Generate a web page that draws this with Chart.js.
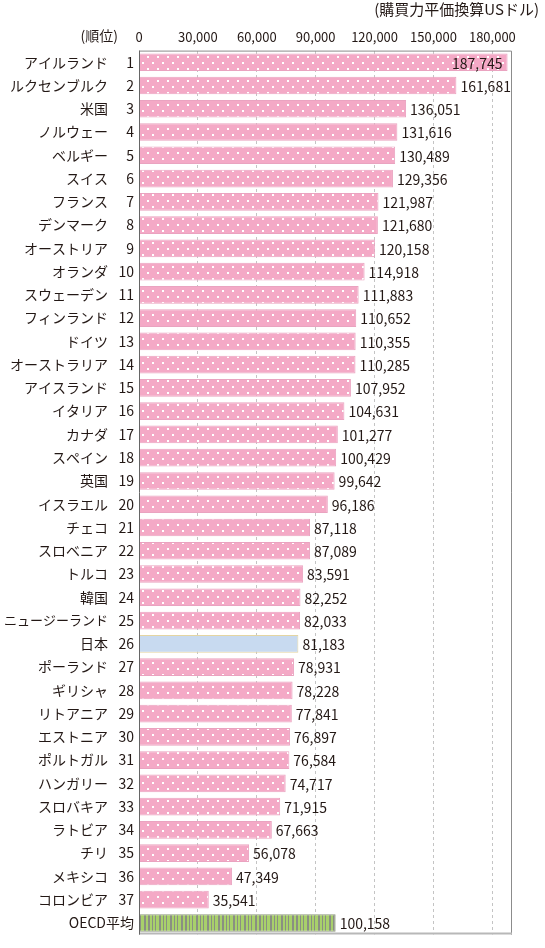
<!DOCTYPE html>
<html lang="ja">
<head>
<meta charset="utf-8">
<title>一人当たり労働生産性</title>
<script src="https://cdn.jsdelivr.net/npm/chart.js@4"></script>
<style>
  html, body { margin: 0; padding: 0; background: #fff; }
  #wrap { position: relative; width: 545px; height: 948px; }
</style>
</head>
<body>
<div id="wrap"><canvas id="chart"></canvas></div>
<script>
// データ（購買力平価換算USドル）
const countries = ['アイルランド', 'ルクセンブルク', '米国', 'ノルウェー', 'ベルギー', 'スイス', 'フランス', 'デンマーク',
  'オーストリア', 'オランダ', 'スウェーデン', 'フィンランド', 'ドイツ', 'オーストラリア', 'アイスランド', 'イタリア',
  'カナダ', 'スペイン', '英国', 'イスラエル', 'チェコ', 'スロベニア', 'トルコ', '韓国', 'ニュージーランド', '日本',
  'ポーランド', 'ギリシャ', 'リトアニア', 'エストニア', 'ポルトガル', 'ハンガリー', 'スロバキア', 'ラトビア', 'チリ',
  'メキシコ', 'コロンビア', ''];
const ranks = ['1', '2', '3', '4', '5', '6', '7', '8', '9', '10', '11', '12', '13', '14', '15', '16', '17', '18', '19',
  '20', '21', '22', '23', '24', '25', '26', '27', '28', '29', '30', '31', '32', '33', '34', '35', '36', '37', 'OECD平均'];
const values = [187745, 161681, 136051, 131616, 130489, 129356, 121987, 121680, 120158, 114918, 111883, 110652,
  110355, 110285, 107952, 104631, 101277, 100429, 99642, 96186, 87118, 87089, 83591, 82252, 82033, 81183,
  78931, 78228, 77841, 76897, 76584, 74717, 71915, 67663, 56078, 47349, 35541, 100158];
const xTicks = [0, 30000, 60000, 90000, 120000, 150000, 180000];

const FONT = "'Noto Sans CJK JP', 'Noto Sans', sans-serif";
const TEXT = '#231815';

// ピンクの水玉
function dotPattern() {
    const c = document.createElement('canvas');
    c.width = 10; c.height = 12;
    const g = c.getContext('2d');
    g.fillStyle = '#f4a9c6';
    g.fillRect(0, 0, 10, 12);
    g.fillStyle = '#ffffff';
    g.fillRect(2, 2, 2, 2);
    g.fillRect(7, 8, 2, 2);
    return g.createPattern(c, 'repeat');
}

// OECD平均の縦じま
function stripePattern() {
    const c = document.createElement('canvas');
    c.width = 37; c.height = 4;
    const g = c.getContext('2d');
    g.fillStyle = '#a8d06b';
    g.fillRect(0, 0, 37, 4);
    g.fillStyle = '#8a8f82';
    [0, 4, 7, 11, 15, 18, 22, 26, 29, 33].forEach((x, i) => {
        g.fillRect(x, 0, i % 3 === 0 ? 2 : 1, 4);
    });
    return g.createPattern(c, 'repeat');
}

const pink = dotPattern();
const green = stripePattern();
const fills = ranks.map((r, i) => countries[i] === '日本' ? '#c8daf0' : (r === 'OECD平均' ? green : pink));
const edges = ranks.map((r, i) => countries[i] === '日本' ? '#e4d5a2' : (r === 'OECD平均' ? '#8f9a7c' : '#eaa3c0'));

const decorPlugin = {
    id: 'decor',
    afterDatasetsDraw(chart) {
        const ctx = chart.ctx;
        const a = chart.chartArea;
        ctx.save();
        // 枠
        ctx.lineWidth = 1;
        ctx.strokeStyle = '#8c8c8c';
        ctx.beginPath();
        ctx.moveTo(a.left, a.top + 0.5);
        ctx.lineTo(a.right - 0.5, a.top + 0.5);
        ctx.lineTo(a.right - 0.5, a.bottom);
        ctx.stroke();
        ctx.strokeStyle = '#b8b8b8';
        ctx.lineWidth = 2;
        ctx.beginPath();
        ctx.moveTo(a.left, a.bottom - 1);
        ctx.lineTo(a.right, a.bottom - 1);
        ctx.stroke();
        ctx.strokeStyle = '#666666';
        ctx.lineWidth = 1;
        ctx.beginPath();
        ctx.moveTo(a.left + 0.5, a.top);
        ctx.lineTo(a.left + 0.5, a.bottom);
        ctx.stroke();

        // 数値ラベル
        ctx.font = '14px ' + FONT;
        ctx.fillStyle = TEXT;
        ctx.textBaseline = 'middle';
        chart.getDatasetMeta(0).data.forEach((bar, i) => {
            const txt = values[i].toLocaleString('en-US');
            const w = ctx.measureText(txt).width;
            if (bar.x + 4 + w > a.right) {
                ctx.textAlign = 'right';
                ctx.fillText(txt, bar.x - 5, bar.y + 1);
            } else {
                ctx.textAlign = 'left';
                ctx.fillText(txt, bar.x + 4, bar.y + 1);
            }
        });

        // 見出し
        ctx.textAlign = 'right';
        ctx.font = '14px ' + FONT;
        ctx.fillText('(順位)', 118, 36);
        ctx.font = '15px ' + FONT;
        ctx.fillText('(購買力平価換算USドル)', 539, 9);
        ctx.restore();
    }
};

new Chart(document.getElementById('chart'), {
    type: 'bar',
    data: {
        labels: countries,
        datasets: [{
            data: values,
            backgroundColor: fills,
            borderColor: edges,
            borderWidth: 1,
            borderSkipped: 'start',
            barPercentage: 0.76,
            categoryPercentage: 1
        }]
    },
    options: {
        indexAxis: 'y',
        responsive: true,
        maintainAspectRatio: false,
        animation: false,
        layout: { padding: { top: 23, right: 33, bottom: 2, left: 0 } },
        plugins: {
            legend: { display: false },
            tooltip: { enabled: false }
        },
        scales: {
            x: {
                position: 'top',
                min: 0,
                max: 190000,
                afterBuildTicks: axis => {
                    axis.ticks = xTicks.map(v => ({ value: v }));
                },
                grid: { color: '#c4c4c4', drawTicks: false },
                border: { display: false, dash: [3, 3] },
                ticks: {
                    padding: 6,
                    color: TEXT,
                    font: { family: FONT, size: 13 },
                    callback: v => v.toLocaleString('en-US')
                }
            },
            y: {
                type: 'category',
                position: 'left',
                weight: 1,
                offset: true,
                afterFit: axis => { axis.width = 110; },
                grid: { display: false, drawTicks: false },
                border: { display: false },
                ticks: {
                    autoSkip: false,
                    padding: 2,
                    color: TEXT,
                    font: c => ({ family: FONT, size: (countries[c.index] || '').length > 7 ? 13 : 14 })
                }
            },
            yRank: {
                type: 'category',
                position: 'left',
                weight: 0,
                offset: true,
                labels: ranks,
                afterFit: axis => {
                    axis.width = 29;
                    // 「OECD平均」を軸の幅からはみ出して描けるように
                    axis._computeLabelArea = () => undefined;
                },
                grid: { display: false, drawTicks: false },
                border: { display: false },
                ticks: {
                    autoSkip: false,
                    padding: 5,
                    color: TEXT,
                    font: { family: FONT, size: 14 }
                }
            }
        }
    },
    plugins: [decorPlugin]
});
</script>
</body>
</html>
